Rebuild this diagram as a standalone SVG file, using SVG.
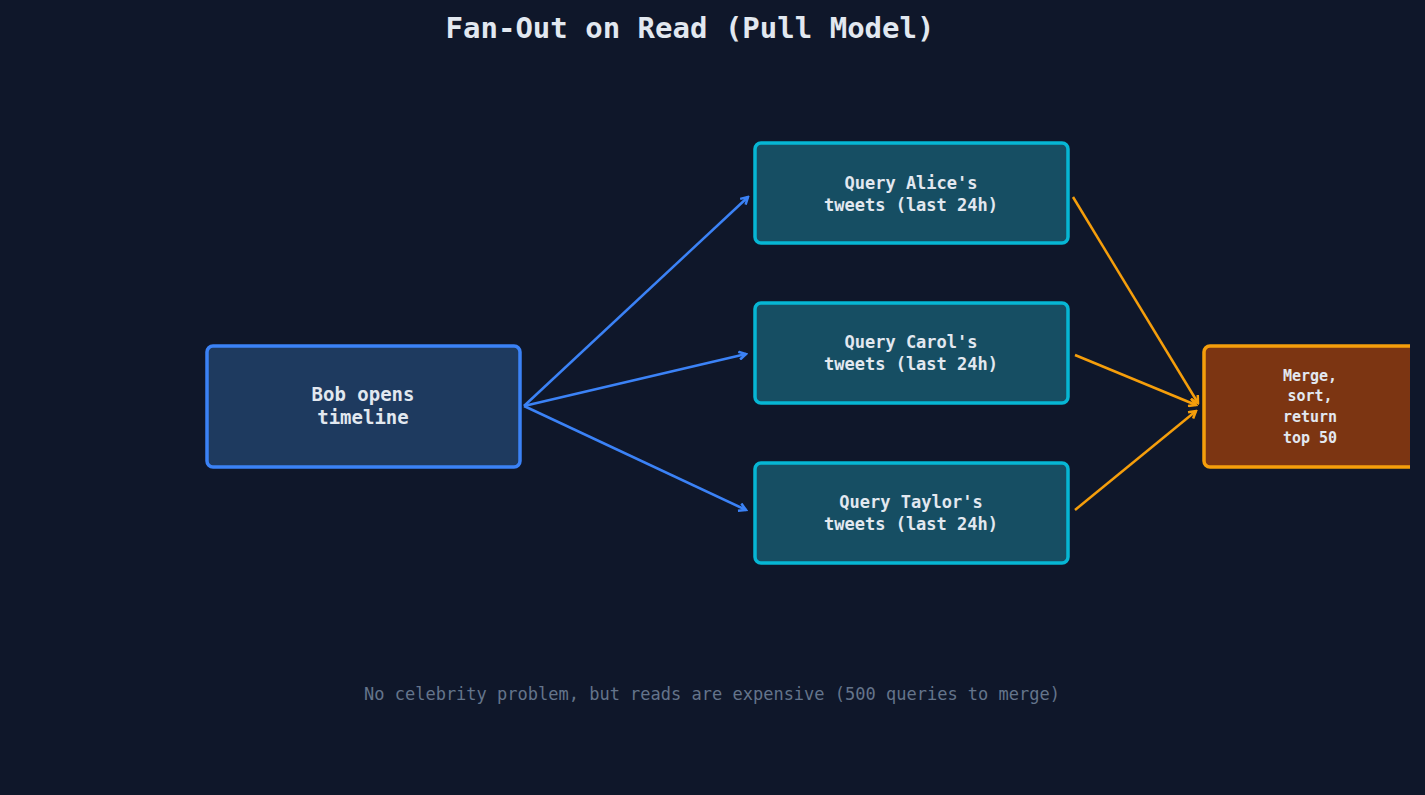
<svg xmlns="http://www.w3.org/2000/svg" width="1425" height="795" viewBox="0 0 1425 795">
<style>
text{font-family:"DejaVu Sans Mono",monospace;fill:#e2e8f0;text-anchor:middle;font-weight:bold}
.q{fill:#164e63;stroke:#06b6d4;stroke-width:3.5}
.qt{font-size:17px}
.b{stroke:#3b82f6;stroke-width:2.5;fill:none}
.o{stroke:#f59e0b;stroke-width:2.5;fill:none}
</style>
<defs>
<marker id="ab" markerWidth="10" markerHeight="10" refX="8" refY="5" orient="auto" markerUnits="userSpaceOnUse"><path d="M1,1 L8,5 L1,9" fill="none" stroke="#3b82f6" stroke-width="2.5"/></marker>
<marker id="ao" markerWidth="10" markerHeight="10" refX="8" refY="5" orient="auto" markerUnits="userSpaceOnUse"><path d="M1,1 L8,5 L1,9" fill="none" stroke="#f59e0b" stroke-width="2.5"/></marker>
<clipPath id="c"><rect x="0" y="0" width="1410" height="795"/></clipPath>
</defs>
<rect width="1425" height="795" fill="#0f172a"/>
<text x="690" y="38" style="font-size:29px">Fan-Out on Read (Pull Model)</text>
<g id="connectors">
<path class="b" d="M524,406 L748,197" marker-end="url(#ab)"/>
<path class="b" d="M524,406 L746,354" marker-end="url(#ab)"/>
<path class="b" d="M524,406 L746,510" marker-end="url(#ab)"/>
<path class="o" d="M1073,197 L1198,403" marker-end="url(#ao)"/>
<path class="o" d="M1075,355 L1196,405" marker-end="url(#ao)"/>
<path class="o" d="M1075,510 L1196,411" marker-end="url(#ao)"/>
</g>
<g id="bob"><rect x="207" y="346" width="313" height="121" rx="6" fill="#1e3a5f" stroke="#3b82f6" stroke-width="3.5"/>
<text x="363" y="401" style="font-size:19px">Bob opens</text><text x="363" y="424" style="font-size:19px">timeline</text></g>
<g id="alice"><rect class="q" x="755" y="143" width="313" height="100" rx="6"/>
<text class="qt" x="911" y="189">Query Alice's</text><text class="qt" x="911" y="211">tweets (last 24h)</text></g>
<g id="carol"><rect class="q" x="755" y="303" width="313" height="100" rx="6"/>
<text class="qt" x="911" y="348">Query Carol's</text><text class="qt" x="911" y="370">tweets (last 24h)</text></g>
<g id="taylor"><rect class="q" x="755" y="463" width="313" height="100" rx="6"/>
<text class="qt" x="911" y="508">Query Taylor's</text><text class="qt" x="911" y="530">tweets (last 24h)</text></g>
<g id="merge" clip-path="url(#c)"><rect x="1204" y="346" width="214" height="121" rx="6" fill="#7c3512" stroke="#f59e0b" stroke-width="3.5"/>
<text x="1310" y="381" style="font-size:15px">Merge,</text><text x="1310" y="401" style="font-size:15px">sort,</text><text x="1310" y="422" style="font-size:15px">return</text><text x="1310" y="443" style="font-size:15px">top 50</text></g>
<text x="712" y="700" style="font-size:17px;font-weight:normal;fill:#64748b">No celebrity problem, but reads are expensive (500 queries to merge)</text>
</svg>
